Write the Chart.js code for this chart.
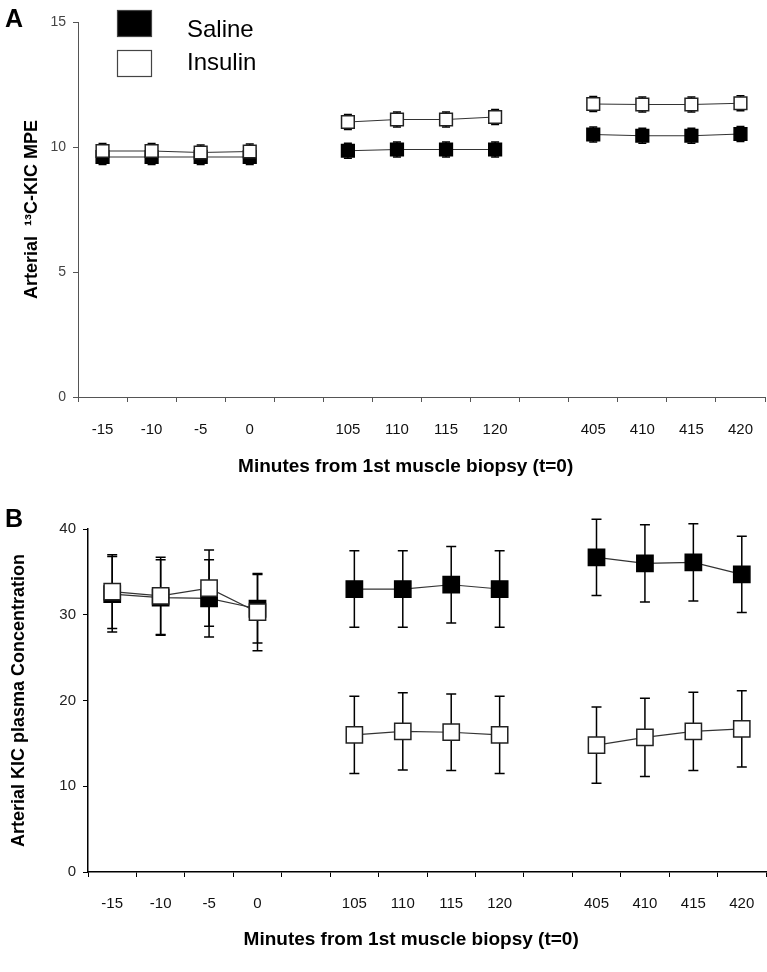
<!DOCTYPE html>
<html>
<head>
<meta charset="utf-8">
<script src="https://cdn.jsdelivr.net/npm/chart.js@4.4.1/dist/chart.umd.min.js"></script>
<style>
  body { margin: 0; background: #fff; }
  #wrap { position: relative; width: 767px; height: 972px; }
  canvas { position: absolute; left: 0; }
  .letter { position: absolute; left: 5px; font: bold 25px "Liberation Sans", Arial, sans-serif; color: #000; }
</style>
</head>
<body>
<div id="wrap">
  <canvas id="chartA" width="767" height="480" style="top:0"></canvas>
  <canvas id="chartB" width="767" height="492" style="top:480px"></canvas>
  <div class="letter" style="top:4px">A</div>
  <div class="letter" style="top:504px">B</div>
</div>
<script>
// x categories (blank slots split the three sampling periods)
var categories = ['-15', '-10', '-5', '0', '', '105', '110', '115', '120', '', '405', '410', '415', '420'];

// panel A : arterial 13C-KIC MPE
var salineMPE = [9.6, 9.6, 9.6, 9.6, null, 9.85, 9.9, 9.9, 9.9, null, 10.5, 10.45, 10.45, 10.52];
var salineMPEErr = [0.3, 0.3, 0.3, 0.3, null, 0.3, 0.3, 0.3, 0.3, null, 0.3, 0.3, 0.3, 0.3];
var insulinMPE = [9.84, 9.84, 9.78, 9.82, null, 11.0, 11.1, 11.1, 11.2, null, 11.72, 11.7, 11.7, 11.75];
var insulinMPEErr = [0.3, 0.3, 0.3, 0.3, null, 0.3, 0.3, 0.3, 0.3, null, 0.3, 0.3, 0.3, 0.3];
var ticksA = [0, 5, 10, 15];

// panel B : arterial KIC plasma concentration
var salineKIC = [32.4, 32.0, 31.9, 30.7, null, 33.0, 33.0, 33.5, 33.0, null, 36.7, 36.0, 36.1, 34.7];
var salineKICErr = [4.4, 4.4, 4.5, 4.0, null, 4.45, 4.45, 4.45, 4.45, null, 4.45, 4.5, 4.5, 4.45];
var insulinKIC = [32.7, 32.2, 33.1, 30.3, null, 16.0, 16.4, 16.3, 16.0, null, 14.8, 15.7, 16.4, 16.7];
var insulinKICErr = [4.3, 4.5, 4.45, 4.5, null, 4.5, 4.5, 4.45, 4.5, null, 4.45, 4.55, 4.55, 4.45];
var ticksB = [0, 10, 20, 30, 40];

var FONT = '"Liberation Sans", Arial, sans-serif';
var NARROW = '"Liberation Sans Narrow", "Arial Narrow", "Liberation Sans", Arial, sans-serif';

// vertical error bars with caps, drawn behind the markers
var errorBars = {
  id: 'errorBars',
  beforeDatasetsDraw: function (chart, args, opts) {
    var ctx = chart.ctx, ys = chart.scales.y;
    chart.data.datasets.forEach(function (ds, di) {
      if (!ds.errors) return;
      var meta = chart.getDatasetMeta(di);
      ctx.save();
      ctx.strokeStyle = opts.color;
      ctx.lineWidth = opts.width;
      meta.data.forEach(function (pt, i) {
        var v = ds.data[i], e = ds.errors[i];
        if (v == null || e == null) return;
        var top = ys.getPixelForValue(v + e), bot = ys.getPixelForValue(v - e);
        ctx.beginPath();
        ctx.moveTo(pt.x, top); ctx.lineTo(pt.x, bot);
        ctx.moveTo(pt.x - opts.cap, top); ctx.lineTo(pt.x + opts.cap, top);
        ctx.moveTo(pt.x - opts.cap, bot); ctx.lineTo(pt.x + opts.cap, bot);
        ctx.stroke();
      });
      ctx.restore();
    });
  }
};

// legend in the top left of panel A
var boxLegend = {
  id: 'boxLegend',
  afterDraw: function (chart, args, opts) {
    if (!opts.show) return;
    var ctx = chart.ctx;
    var list = chart.data.datasets.slice().sort(function (a, b) { return b.order - a.order; });
    var textY = [30, 63];
    ctx.save();
    list.forEach(function (ds, i) {
      var y = 10 + i * 40;
      ctx.fillStyle = ds.pointBackgroundColor;
      ctx.fillRect(117, y, 35, 27);
      ctx.strokeStyle = '#444';
      ctx.lineWidth = 1.2;
      ctx.strokeRect(117.5, y + 0.5, 34, 26);
      ctx.fillStyle = '#000';
      ctx.font = '24px ' + FONT;
      ctx.textBaseline = 'middle';
      ctx.fillText(ds.label, 187, textY[i]);
    });
    ctx.restore();
  }
};

function makeChart(id, cfg) {
  var yTicks = cfg.yTicks;
  return new Chart(document.getElementById(id), {
    type: 'line',
    data: {
      labels: categories,
      datasets: [
        {
          label: 'Saline', data: cfg.saline, errors: cfg.salineErr, order: 1,
          borderColor: '#333', borderWidth: 1.2,
          pointStyle: 'rect', pointRadius: cfg.radius, pointBorderWidth: 1.5,
          pointBackgroundColor: '#000', pointBorderColor: '#000'
        },
        {
          label: 'Insulin', data: cfg.insulin, errors: cfg.insulinErr, order: 0,
          borderColor: '#333', borderWidth: 1.2,
          pointStyle: 'rect', pointRadius: cfg.radius, pointBorderWidth: 1.5,
          pointBackgroundColor: '#fff', pointBorderColor: '#222'
        }
      ]
    },
    options: {
      responsive: false,
      animation: false,
      spanGaps: false,
      elements: { line: { tension: 0 } },
      layout: { autoPadding: false, padding: { left: 0, right: cfg.padRight, top: cfg.padTop, bottom: 0 } },
      plugins: {
        legend: { display: false },
        tooltip: { enabled: false },
        errorBars: { color: '#000', width: 1.5, cap: cfg.cap },
        boxLegend: { show: cfg.legend }
      },
      scales: {
        x: {
          offset: true,
          grid: { offset: true, drawOnChartArea: false, tickLength: 5, color: cfg.axisColor, lineWidth: 1 },
          border: { color: cfg.axisColor, width: cfg.axisWidth },
          ticks: { autoSkip: false, maxRotation: 0, padding: cfg.xPad, color: '#111', font: { family: NARROW, size: 15 } },
          title: {
            display: true,
            // trailing spaces nudge the centred title left, as in the original
            text: 'Minutes from 1st muscle biopsy (t=0)\u00A0\u00A0\u00A0\u00A0\u00A0\u00A0',
            color: '#000',
            font: { family: FONT, size: 19, weight: 'bold' },
            padding: { top: 0, bottom: cfg.titlePadB }
          },
          afterFit: function (s) {
            s.height = cfg.xHeight;
            s.paddingLeft = 0;
            s.paddingRight = 0;
          }
        },
        y: {
          min: yTicks[0], max: yTicks[yTicks.length - 1],
          afterBuildTicks: function (s) { s.ticks = yTicks.map(function (v) { return { value: v }; }); },
          grid: { drawOnChartArea: false, tickLength: 5, color: cfg.axisColor, lineWidth: 1 },
          border: { color: cfg.axisColor, width: cfg.axisWidth },
          ticks: { padding: 7, color: cfg.yTickColor, font: { family: FONT, size: cfg.yTickSize } },
          title: {
            display: true, text: cfg.yTitle, color: '#000',
            font: { family: FONT, size: 18, weight: 'bold' },
            padding: { top: cfg.yTitlePad, bottom: 0 }
          },
          afterFit: function (s) { s.width = cfg.yWidth; }
        }
      }
    },
    plugins: [errorBars, boxLegend]
  });
}

makeChart('chartA', {
  saline: salineMPE, salineErr: salineMPEErr, insulin: insulinMPE, insulinErr: insulinMPEErr,
  yTicks: ticksA, yTitle: 'Arterial  \u00B9\u00B3C-KIC MPE',
  radius: 9, cap: 4, legend: true,
  padTop: 22, padRight: 2, xHeight: 83, xPad: 19, titlePadB: 2,
  yWidth: 78, yTitlePad: 21, yTickColor: '#444', yTickSize: 14,
  axisColor: '#555', axisWidth: 1
});

makeChart('chartB', {
  saline: salineKIC, salineErr: salineKICErr, insulin: insulinKIC, insulinErr: insulinKICErr,
  yTicks: ticksB, yTitle: 'Arterial KIC plasma Concentration',
  radius: 11.5, cap: 5, legend: false,
  padTop: 49, padRight: 1, xHeight: 100, xPad: 18, titlePadB: 21,
  yWidth: 88, yTitlePad: 8, yTickColor: '#222', yTickSize: 15,
  axisColor: '#000', axisWidth: 1.5
});
</script>
</body>
</html>
